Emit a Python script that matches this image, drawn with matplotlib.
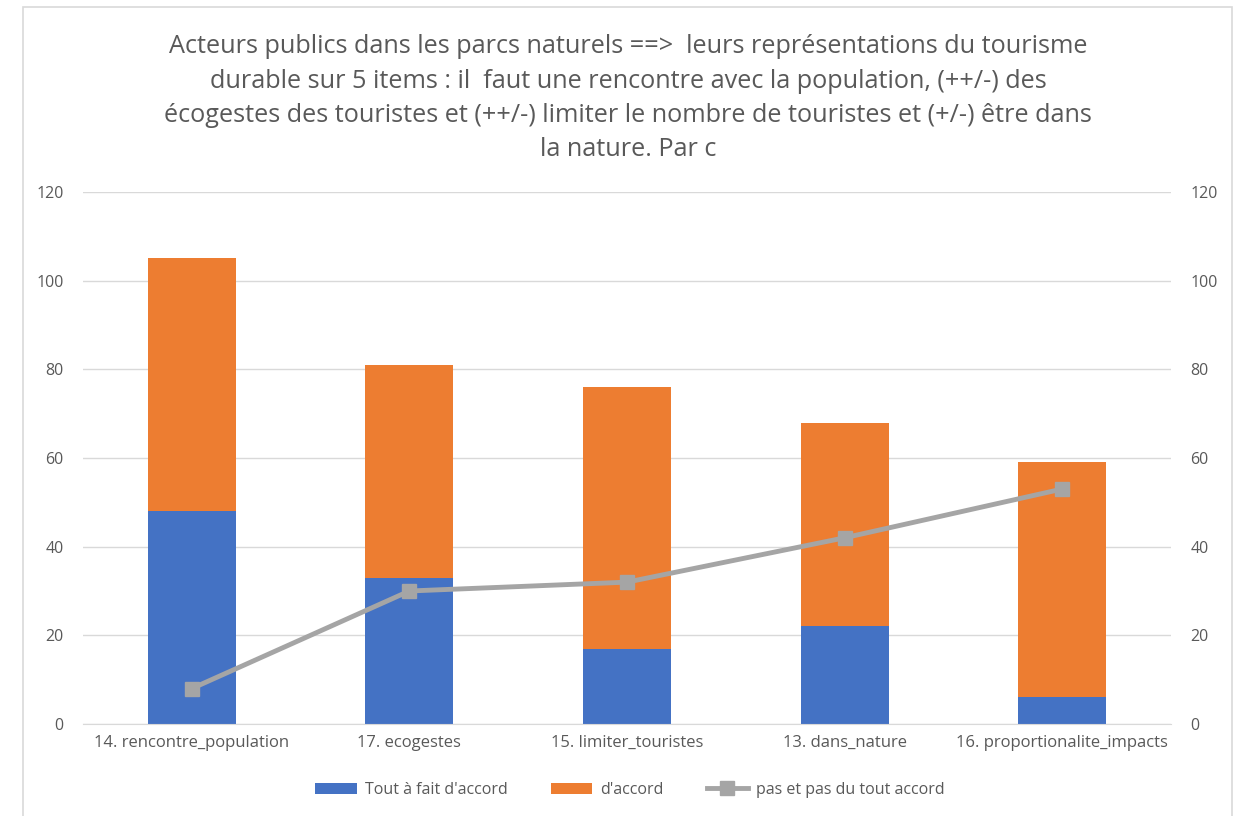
import matplotlib.pyplot as plt
from matplotlib.patches import Rectangle
import numpy as np

# data
categories = ["14. rencontre_population", "17. ecogestes", "15. limiter_touristes",
              "13. dans_nature", "16. proportionalite_impacts"]
tout_a_fait = [48, 33, 17, 22, 6]
accord = [57, 48, 59, 46, 53]
pas_accord = [8, 30, 32, 42, 53]
yticks = [0, 20, 40, 60, 80, 100, 120]

title = ("Acteurs publics dans les parcs naturels ==>  leurs représentations du tourisme\n"
         "durable sur 5 items : il  faut une rencontre avec la population, (++/-) des\n"
         "écogestes des touristes et (++/-) limiter le nombre de touristes et (+/-) être dans\n"
         "la nature. Par c")

plt.rcParams['font.family'] = ['Open Sans', 'DejaVu Sans']
txt = '#595959'
grid = '#d9d9d9'

fig = plt.figure(figsize=(12.43, 8.16), dpi=100)
fig.patches.append(Rectangle((23 / 1243, -0.01), (1232 - 23) / 1243, 1 - 7 / 816 + 0.01,
                             transform=fig.transFigure, fill=False, edgecolor='#d9d9d9', lw=1.2))

ax = fig.add_axes([83 / 1243, 1 - 724 / 816, (1171 - 83) / 1243, (724 - 192) / 816])
x = np.arange(len(categories))
ax.bar(x, tout_a_fait, width=0.405, color='#4472c4', label="Tout à fait d'accord", zorder=2)
ax.bar(x, accord, width=0.405, bottom=tout_a_fait, color='#ed7d31', label="d'accord", zorder=2)

ax2 = ax.twinx()
ax2.plot(x, pas_accord, color='#a5a5a5', lw=3.5, marker='s', markersize=10.5,
         label="pas et pas du tout accord", zorder=3)

for a in (ax, ax2):
    a.set_ylim(0, 120)
    a.set_yticks(yticks)
    a.set_xlim(-0.5, 4.5)
    for s in a.spines.values():
        s.set_visible(False)
    a.tick_params(length=0, labelsize=11.5, labelcolor=txt, pad=14)
ax.spines['bottom'].set_visible(True)
ax.spines['bottom'].set_color(grid)
ax.yaxis.grid(True, color=grid, lw=1, zorder=0)
ax.set_axisbelow(True)
ax.set_xticks(x)
ax.set_xticklabels(categories, fontsize=12)
ax.tick_params(axis='x', pad=8)

fig.text(628 / 1243, 1 - 34 / 816, title, ha='center', va='top', fontsize=18.2,
         color=txt, linespacing=1.5)

h1, l1 = ax.get_legend_handles_labels()
h2, l2 = ax2.get_legend_handles_labels()
fig.legend(h1 + h2, l1 + l2, loc='center', bbox_to_anchor=(630 / 1243, 1 - 790 / 816),
           ncol=3, frameon=False, fontsize=11.5, labelcolor=txt, handlelength=2.6,
           handletextpad=0.5, columnspacing=2.7)

fig.savefig('out.png', dpi=100)
